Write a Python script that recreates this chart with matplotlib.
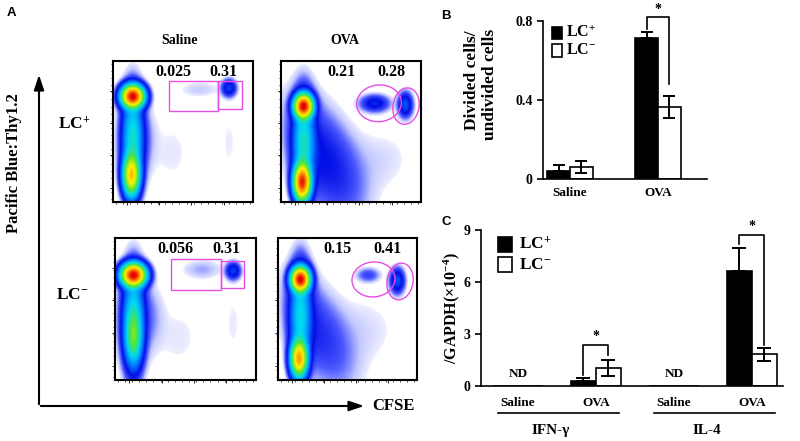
import numpy as np
import matplotlib
matplotlib.use("Agg")
import matplotlib.pyplot as plt
from matplotlib.colors import LinearSegmentedColormap
from matplotlib.patches import Rectangle, Ellipse
from matplotlib.transforms import blended_transform_factory

plt.rcParams['font.family'] = ['Liberation Serif', 'DejaVu Serif']
plt.rcParams['font.weight'] = 'bold'
plt.rcParams['mathtext.fontset'] = 'custom'
plt.rcParams['mathtext.rm'] = 'Liberation Serif:bold'
plt.rcParams['mathtext.it'] = 'Liberation Serif:bold'
plt.rcParams['mathtext.bf'] = 'Liberation Serif:bold'

# ---------------- data ----------------
flow_rows = ['LC$^{+}$', 'LC$^{-}$']
flow_cols = ['Saline', 'OVA']
gate_left_vals = [['0.025', '0.21'], ['0.056', '0.15']]
gate_right_vals = [['0.31', '0.28'], ['0.31', '0.41']]

# flow populations: (cx, cy, sx, sy, angle_deg, relative density)
pops_saline_lcp = [(0.14, 0.75, 0.042, 0.042, 0, 1.0), (0.14, 0.45, 0.04, 0.17, 0, 0.12),
                   (0.13, 0.19, 0.032, 0.08, 0, 0.5), (0.14, 0.44, 0.06, 0.21, 0, 0.01),
                   (0.24, 0.45, 0.05, 0.14, 0, 0.002), (0.83, 0.42, 0.06, 0.22, 0, 0.0011),
                   (0.42, 0.35, 0.12, 0.2, 0, 0.0012),
                   (0.83, 0.81, 0.03, 0.035, 0, 0.025), (0.62, 0.8, 0.1, 0.04, 0, 0.002)]
pops_ova_lcp = [(0.16, 0.68, 0.035, 0.045, 0, 1.0), (0.16, 0.42, 0.04, 0.17, 0, 0.12),
                (0.15, 0.14, 0.032, 0.07, 0, 0.9), (0.17, 0.42, 0.06, 0.21, 0, 0.01),
                (0.31, 0.3, 0.13, 0.26, 25, 0.015), (0.72, 0.3, 0.16, 0.16, 0, 0.0015),
                (0.67, 0.70, 0.06, 0.035, 0, 0.02), (0.89, 0.69, 0.03, 0.05, 0, 0.03)]
pops_saline_lcm = [(0.13, 0.74, 0.045, 0.042, 0, 1.0), (0.13, 0.42, 0.04, 0.18, 0, 0.12),
                   (0.13, 0.3, 0.032, 0.1, 0, 0.15), (0.13, 0.44, 0.065, 0.21, 0, 0.01),
                   (0.25, 0.45, 0.06, 0.14, 0, 0.003), (0.84, 0.4, 0.06, 0.22, 0, 0.0011),
                   (0.45, 0.3, 0.14, 0.2, 0, 0.0012),
                   (0.84, 0.77, 0.03, 0.035, 0, 0.025), (0.62, 0.78, 0.09, 0.045, 0, 0.003)]
pops_ova_lcm = [(0.16, 0.71, 0.035, 0.045, 0, 1.0), (0.16, 0.45, 0.04, 0.18, 0, 0.1),
                (0.15, 0.15, 0.032, 0.07, 0, 0.6), (0.17, 0.45, 0.06, 0.21, 0, 0.01),
                (0.29, 0.33, 0.12, 0.25, 25, 0.01), (0.62, 0.35, 0.18, 0.18, 0, 0.0015),
                (0.65, 0.74, 0.05, 0.03, 0, 0.008), (0.86, 0.70, 0.03, 0.05, 0, 0.03)]
flow_pops = [[pops_saline_lcp, pops_ova_lcp], [pops_saline_lcm, pops_ova_lcm]]

b_groups = ['Saline', 'OVA']
b_lcp = [0.04, 0.714]
b_lcp_err = [0.03, 0.03]
b_lcm = [0.06, 0.365]
b_lcm_err = [0.03, 0.055]
b_sig = [(1, 0.82, 0.76, 0.48)]   # group, top, left start, right start

c_groups = ['Saline', 'OVA', 'Saline', 'OVA']
c_genes = ['IFN-γ', 'IL-4']
c_lcp = [0.0, 0.31, 0.0, 6.63]
c_lcp_err = [0.0, 0.17, 0.0, 1.33]
c_lcm = [0.0, 1.06, 0.0, 1.83]
c_lcm_err = [0.0, 0.46, 0.0, 0.38]
c_nd = [0, 2]
c_sig = [(1, 2.36, 0.62, 1.8), (3, 8.7, 8.2, 2.38)]

# ---------------- figure ----------------
W, H = 800, 441
fig = plt.figure(figsize=(8, 4.41), dpi=100)

def rect(x0, y0, x1, y1):
    return [x0 / W, 1 - y1 / H, (x1 - x0) / W, (y1 - y0) / H]

ov = fig.add_axes([0, 0, 1, 1], zorder=0)
ov.set_xlim(0, W); ov.set_ylim(H, 0); ov.axis('off')

# panel letters
for lab, x, y in [('A', 11, 13), ('B', 446, 16), ('C', 446, 222)]:
    ov.text(x, y, lab, family='Liberation Sans', weight='bold', fontsize=9.5,
            ha='center', va='center')

# ---- panel A ----
cmap = LinearSegmentedColormap.from_list('flow', [
    (0.0, (0.94, 0.94, 1.0)), (0.12, (0.76, 0.78, 1.0)), (0.25, (0.3, 0.35, 1.0)),
    (0.4, (0.0, 0.05, 0.9)), (0.56, (0.0, 0.5, 1.0)), (0.68, (0.0, 0.85, 0.95)),
    (0.78, (0.3, 0.9, 0.25)), (0.88, (1.0, 0.95, 0.0)), (0.95, (1.0, 0.5, 0.0)),
    (1.0, (0.9, 0.0, 0.0))])
cmap.set_bad('white')

def density(pops, n=260):
    xs = np.linspace(0, 1, n)
    X, Y = np.meshgrid(xs, xs)
    D = np.zeros_like(X)
    for cx, cy, sx, sy, ang, a in pops:
        t = np.deg2rad(ang)
        u = (X - cx) * np.cos(t) + (Y - cy) * np.sin(t)
        v = -(X - cx) * np.sin(t) + (Y - cy) * np.cos(t)
        D += a * np.exp(-0.5 * ((u / sx) ** 2 + (v / sy) ** 2))
    L = (np.log10(np.maximum(D, 1e-12)) + 3.0) / 3.0
    return np.ma.masked_less(np.clip(L, -1, 1), 0)

flow_boxes = [[(113, 61, 253, 202), (281, 61, 421, 202)],
              [(115, 238, 256, 380), (278, 238, 417, 380)]]
rect_gates = [[(0.40, 0.645, 0.75, 0.858), (0.75, 0.66, 0.92, 0.858)],
              [(0.40, 0.634, 0.75, 0.852), (0.75, 0.648, 0.915, 0.838)]]
ell_gates = [[(0.70, 0.70, 0.32, 0.26, 5), (0.893, 0.68, 0.186, 0.26, -10)],
             [(0.687, 0.708, 0.31, 0.246, 5), (0.878, 0.694, 0.187, 0.26, -10)]]
gate_color = '#e64ce6'

for r in range(2):
    for c in range(2):
        ax = fig.add_axes(rect(*flow_boxes[r][c]), zorder=2)
        ax.imshow(density(flow_pops[r][c]), origin='lower', extent=[0, 1, 0, 1],
                  cmap=cmap, vmin=0, vmax=1, interpolation='bilinear', aspect='auto')
        ax.set_xlim(0, 1); ax.set_ylim(0, 1)
        for s in ax.spines.values():
            s.set_linewidth(1.5)
        ax.set_xticks([0.1, 0.33, 0.56, 0.79]); ax.set_yticks([0.1, 0.33, 0.56, 0.79])
        ax.set_xticks(np.linspace(0.02, 0.98, 20), minor=True)
        ax.set_yticks(np.linspace(0.02, 0.98, 20), minor=True)
        ax.tick_params(which='major', length=2.5, width=0.6, labelbottom=False, labelleft=False)
        ax.tick_params(which='minor', length=1.3, width=0.5)
        if c == 0:
            for (x0, y0, x1, y1) in rect_gates[r]:
                ax.add_patch(Rectangle((x0, y0), x1 - x0, y1 - y0, fill=False,
                                       ec=gate_color, lw=1.0))
        else:
            for (ex, ey, ew, eh, ea) in ell_gates[r]:
                ax.add_patch(Ellipse((ex, ey), ew, eh, angle=ea, fill=False,
                                     ec=gate_color, lw=1.0))
        ax.text(0.43, 0.925, gate_left_vals[r][c], transform=ax.transAxes,
                ha='center', va='center', fontsize=11.5, weight='bold')
        ax.text(0.79, 0.925, gate_right_vals[r][c], transform=ax.transAxes,
                ha='center', va='center', fontsize=11.5, weight='bold')

ov.text(180, 41, flow_cols[0], ha='center', va='center', fontsize=10, weight='bold')
ov.text(345, 41, flow_cols[1], ha='center', va='center', fontsize=10, weight='bold')
ov.text(74, 125, flow_rows[0], ha='center', va='center', fontsize=12.5, weight='bold')
ov.text(72, 295, flow_rows[1], ha='center', va='center', fontsize=12.5, weight='bold')
ov.annotate('', xy=(39, 72), xytext=(39, 407),
            arrowprops=dict(arrowstyle='-|>,head_length=0.9,head_width=0.3', lw=1.5, color='black'))
ov.annotate('', xy=(367, 406), xytext=(38, 406),
            arrowprops=dict(arrowstyle='-|>,head_length=0.9,head_width=0.3', lw=1.5, color='black'))
ov.text(393, 406, 'CFSE', ha='center', va='center', fontsize=12, weight='bold')
ov.text(14, 163, 'Pacific Blue:Thy1.2', ha='center', va='center', rotation=90,
        fontsize=12, weight='bold')

# ---- panel B ----
axb = fig.add_axes(rect(543, 21, 707, 179), zorder=2)
xb = np.arange(len(b_groups))
bw = 0.26
axb.bar(xb - bw / 2, b_lcp, bw, color='black', edgecolor='black', lw=1.2)
axb.bar(xb + bw / 2, b_lcm, bw, color='white', edgecolor='black', lw=1.2)
axb.errorbar(xb - bw / 2, b_lcp, yerr=[np.zeros(2), b_lcp_err], fmt='none', ecolor='black',
             elinewidth=1.4, capsize=4.5, capthick=1.4)
axb.errorbar(xb + bw / 2, b_lcm, yerr=b_lcm_err, fmt='none', ecolor='black',
             elinewidth=1.4, capsize=4.5, capthick=1.4)
axb.set_xlim(-0.307, 1.557)
axb.set_ylim(0, 0.8)
axb.set_yticks([0, 0.4, 0.8]); axb.set_yticklabels(['0', '0.4', '0.8'])
axb.set_xticks(xb); axb.set_xticklabels(b_groups)
axb.tick_params(axis='x', length=0, pad=6, labelsize=9.5)
axb.tick_params(axis='y', length=4, width=1.2, labelsize=10)
for s in ['top', 'right']:
    axb.spines[s].set_visible(False)
axb.spines['left'].set_linewidth(1.2); axb.spines['bottom'].set_linewidth(1.2)
for g, top, l0, r0 in b_sig:
    axb.plot([g - bw / 2, g - bw / 2, g + bw / 2, g + bw / 2], [l0, top, top, r0],
             color='black', lw=1.2, clip_on=False)
    axb.text(g, top + 0.005, '*', ha='center', va='bottom', fontsize=10)
ov.text(472, 80, 'Divided cells/', rotation=90, ha='center', va='center', fontsize=12.5)
ov.text(490, 84, 'undivided cells', rotation=90, ha='center', va='center', fontsize=12.5)
tb = axb.transAxes
axb.add_patch(Rectangle((0.055, 0.885), 0.062, 0.08, transform=tb, fc='black', ec='black',
                        lw=1.2, clip_on=False))
axb.add_patch(Rectangle((0.055, 0.775), 0.062, 0.08, transform=tb, fc='white', ec='black',
                        lw=1.2, clip_on=False))
axb.text(0.14, 0.925, 'LC$^{+}$', transform=tb, va='center', ha='left', fontsize=11.5)
axb.text(0.14, 0.815, 'LC$^{-}$', transform=tb, va='center', ha='left', fontsize=11.5)

# ---- panel C ----
axc = fig.add_axes(rect(481, 230, 783, 386), zorder=2)
xc = np.arange(len(c_groups))
cw = 0.32
axc.bar(xc - cw / 2, c_lcp, cw, color='black', edgecolor='black', lw=1.2)
axc.bar(xc + cw / 2, c_lcm, cw, color='white', edgecolor='black', lw=1.2)
sel = np.array([v > 0 for v in c_lcp])
axc.errorbar((xc - cw / 2)[sel], np.array(c_lcp)[sel],
             yerr=[np.zeros(sel.sum()), np.array(c_lcp_err)[sel]], fmt='none',
             ecolor='black', elinewidth=1.4, capsize=5, capthick=1.4)
axc.errorbar((xc + cw / 2)[sel], np.array(c_lcm)[sel], yerr=np.array(c_lcm_err)[sel],
             fmt='none', ecolor='black', elinewidth=1.4, capsize=5, capthick=1.4)
axc.set_xlim(-0.474, 3.40)
axc.set_ylim(0, 9)
axc.set_yticks([0, 3, 6, 9])
axc.set_xticks([])
axc.tick_params(axis='y', length=4, width=1.2, labelsize=10)
for s in ['top', 'right']:
    axc.spines[s].set_visible(False)
axc.spines['left'].set_linewidth(1.2); axc.spines['bottom'].set_linewidth(1.2)
for g in c_nd:
    axc.text(g, 0.7, 'ND', ha='center', va='center', fontsize=9.5)
for g, top, l0, r0 in c_sig:
    axc.plot([g - cw / 2, g - cw / 2, g + cw / 2, g + cw / 2], [l0, top, top, r0],
             color='black', lw=1.2, clip_on=False)
    axc.text(g, top + 0.1, '*', ha='center', va='bottom', fontsize=10)
tc = blended_transform_factory(axc.transData, axc.transAxes)
for i, lab in enumerate(c_groups):
    axc.text(i, -0.107, lab, transform=tc, ha='center', va='center', fontsize=9.5)
for k, gene in enumerate(c_genes):
    g0 = 2 * k
    axc.plot([g0 - 0.25, g0 + 1 + 0.3], [-0.173, -0.173], transform=tc, color='black',
             lw=1.2, clip_on=False)
    axc.text(g0 + 0.42, -0.285, gene, transform=tc, ha='center', va='center', fontsize=11)
ov.text(452, 308, '/GAPDH(×10$^{-4}$)', rotation=90, ha='center', va='center', fontsize=11.5)
tca = axc.transAxes
axc.add_patch(Rectangle((0.056, 0.86), 0.046, 0.095, transform=tca, fc='black', ec='black',
                        lw=1.2, clip_on=False))
axc.add_patch(Rectangle((0.056, 0.73), 0.046, 0.095, transform=tca, fc='white', ec='black',
                        lw=1.2, clip_on=False))
axc.text(0.125, 0.905, 'LC$^{+}$', transform=tca, va='center', ha='left', fontsize=12.5)
axc.text(0.125, 0.775, 'LC$^{-}$', transform=tca, va='center', ha='left', fontsize=12.5)

fig.savefig('out.png', dpi=100)
